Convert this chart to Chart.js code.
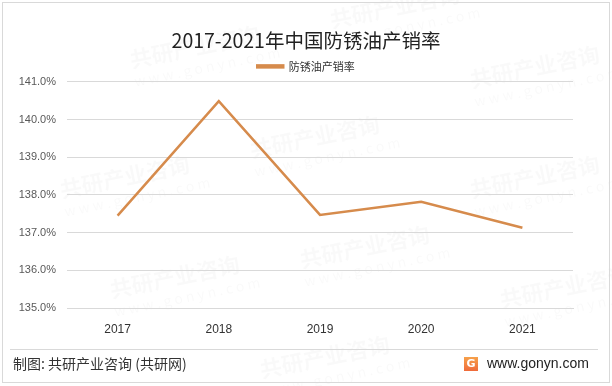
<!DOCTYPE html>
<html>
<head>
<meta charset="utf-8">
<script src="https://cdn.jsdelivr.net/npm/chart.js@4"></script>
<style>
	html, body { margin: 0; padding: 0; background: #fff; }
	#wrap { width: 612px; height: 386px; position: relative; }
</style>
</head>
<body>
<div id="wrap"><canvas id="chart" width="612" height="386"></canvas></div>
<script>
var years = ["2017", "2018", "2019", "2020", "2021"];
var rate = [137.45, 140.49, 137.47, 137.82, 137.13];
var yTicks = [135, 136, 137, 138, 139, 140, 141];
var seriesName = "防锈油产销率";
var titleText = "2017-2021年中国防锈油产销率";

var cjk = "'Noto Sans CJK SC', 'Noto Sans', sans-serif";

// border, footer and faint watermark
var decor = {
	id: 'decor',
	beforeDraw: function(chart) {
		var ctx = chart.ctx;
		ctx.save();
		ctx.fillStyle = '#fff';
		ctx.fillRect(0, 0, chart.width, chart.height);
		ctx.fillStyle = 'rgba(0,0,0,0.022)';
		var spots = [[130, 60], [330, 20], [470, 80], [60, 190], [250, 150], [470, 190], [110, 290], [300, 260], [500, 300], [260, 370]];
		spots.forEach(function(p) {
			ctx.save();
			ctx.translate(p[0], p[1]);
			ctx.rotate(-0.2);
			ctx.font = "bold 22px " + cjk;
			ctx.fillText("共研产业咨询", 0, 0);
			ctx.font = "14px " + cjk;
			ctx.fillText("w w w . g o n y n . c o m", 0, 22);
			ctx.restore();
		});
		ctx.restore();
	},
	afterDraw: function(chart) {
		var ctx = chart.ctx;
		ctx.save();
		ctx.strokeStyle = '#d9d9d9';
		ctx.lineWidth = 1;
		ctx.strokeRect(2.5, 2.5, 607, 380);
		ctx.beginPath();
		ctx.moveTo(10, 349.5);
		ctx.lineTo(598, 349.5);
		ctx.stroke();

		ctx.fillStyle = '#333';
		ctx.font = "14px " + cjk;
		ctx.textBaseline = 'middle';
		ctx.textAlign = 'left';
		ctx.fillText("制图: 共研产业咨询 (共研网)", 13, 364);

		var g = ctx.createLinearGradient(0, 357, 0, 371);
		g.addColorStop(0, '#f6a14a');
		g.addColorStop(1, '#ef6a3a');
		ctx.fillStyle = g;
		ctx.fillRect(464, 357, 14, 14);
		ctx.fillStyle = '#fff';
		ctx.font = "bold 11px 'DejaVu Sans', sans-serif";
		ctx.textAlign = 'center';
		ctx.fillText("G", 471, 364.5);

		ctx.fillStyle = '#222';
		ctx.font = "14px 'Liberation Sans', Arial, sans-serif";
		ctx.textAlign = 'left';
		ctx.fillText("www.gonyn.com", 487, 364);
		ctx.restore();
	}
};

var ctx = document.getElementById('chart').getContext('2d');
var chart = new Chart(ctx, {
	type: 'line',
	data: {
		labels: years,
		datasets: [{
			label: seriesName,
			data: rate,
			borderColor: '#d68b4c',
			backgroundColor: '#d68b4c',
			borderWidth: 2.5,
			pointRadius: 0,
			tension: 0
		}]
	},
	options: {
		responsive: false,
		animation: false,
		layout: { padding: { top: 29, right: 0, bottom: 50, left: 0 } },
		plugins: {
			title: {
				display: true,
				text: titleText,
				color: '#222',
				font: { family: cjk, size: 19.5, weight: 'normal' },
				padding: { top: 0, bottom: 5.5 }
			},
			legend: {
				display: true,
				labels: {
					color: '#333',
					font: { family: cjk, size: 11 },
					boxWidth: 26,
					boxHeight: 2,
					padding: 3
				}
			},
			tooltip: { enabled: false }
		},
		scales: {
			x: {
				offset: true,
				grid: { display: false },
				border: { color: '#d9d9d9' },
				ticks: { color: '#333', font: { family: "'Liberation Sans', Arial, sans-serif", size: 12 }, padding: 6 },
				afterFit: function(s) { s.height = 28; }
			},
			y: {
				min: 135,
				max: 141,
				afterBuildTicks: function(s) { s.ticks = yTicks.map(function(v) { return { value: v }; }); },
				grid: { color: '#d9d9d9', drawTicks: false },
				border: { display: false },
				ticks: {
					color: '#595959',
					font: { family: "'Liberation Sans', Arial, sans-serif", size: 11 },
					padding: 11,
					callback: function(v) { return v.toFixed(1) + '%'; }
				},
				afterFit: function(s) { s.width = 67; }
			},
			// empty right-hand axis keeps the plot off the right edge
			yRight: {
				position: 'right',
				min: 135,
				max: 141,
				grid: { display: false },
				border: { display: false },
				ticks: { display: false },
				afterFit: function(s) { s.width = 39; }
			}
		}
	},
	plugins: [decor]
});
</script>
</body>
</html>
